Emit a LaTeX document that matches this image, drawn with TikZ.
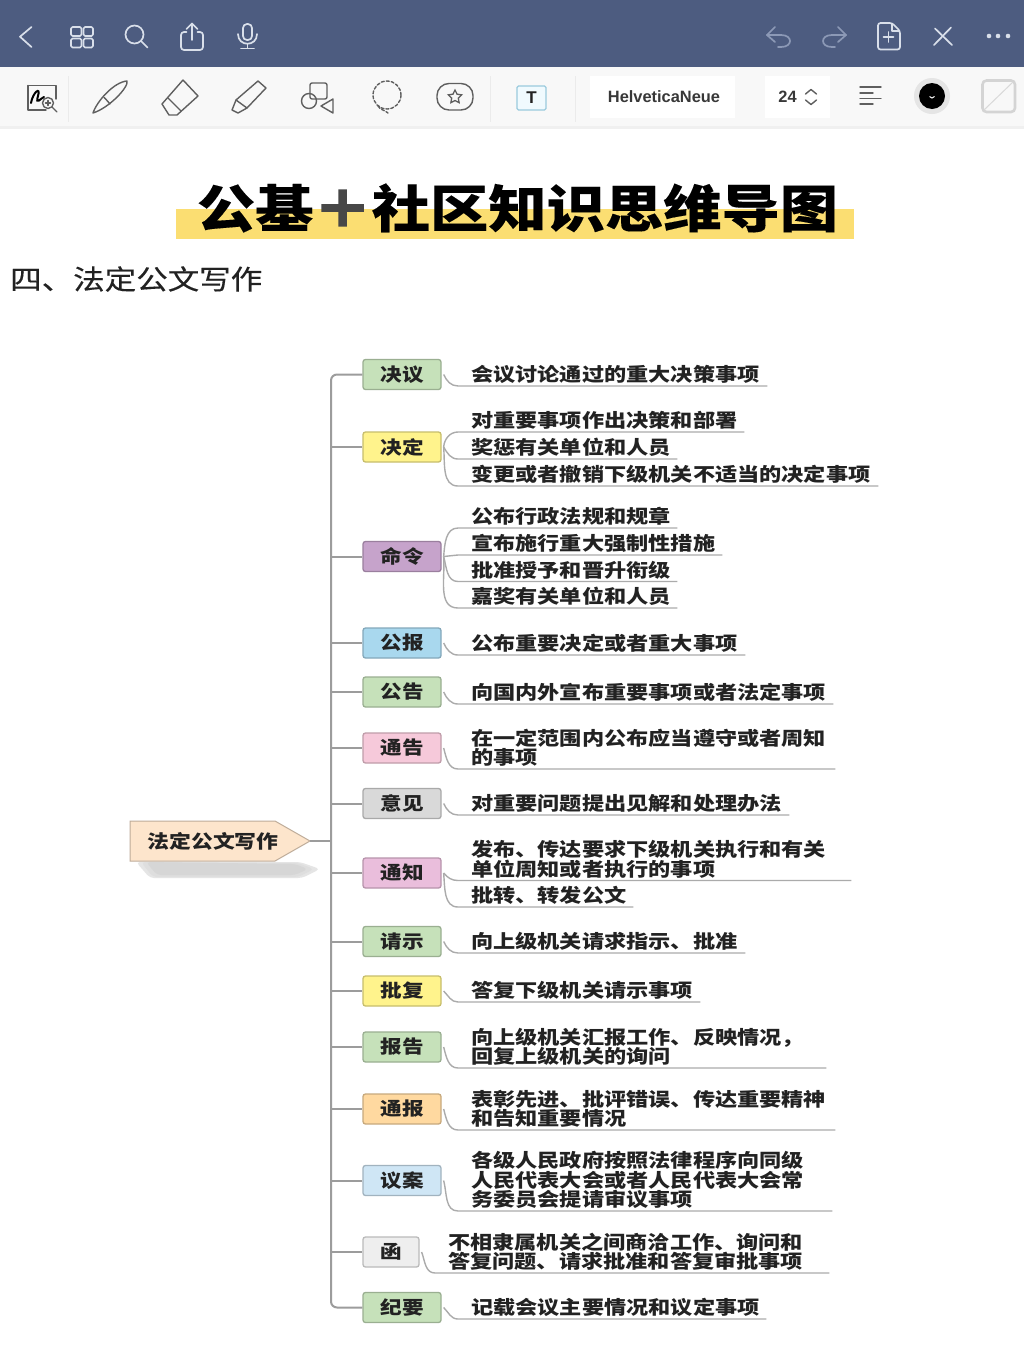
\documentclass[tikz,border=0pt]{standalone}
\usepackage{fontspec}
\setmainfont{Noto Sans CJK SC}
\newfontfamily\latinfont{Liberation Sans}
\usetikzlibrary{shapes.symbols,shapes.geometric}
\normallineskiplimit=-100pt
\lineskiplimit=-100pt
\definecolor{barblue}{HTML}{4D5C80}
\definecolor{toolgray}{HTML}{F8F8F8}
\definecolor{icongray}{HTML}{5F5F5F}
\definecolor{barline}{HTML}{D9DFEA}
\definecolor{bardim}{HTML}{8C99B6}
\definecolor{titleyellow}{HTML}{FBDE72}
\definecolor{inkdark}{HTML}{222222}
\definecolor{stemgray}{HTML}{9C9C9C}
\definecolor{leafgray}{HTML}{ABABAB}
\definecolor{greenbox}{HTML}{C6E1BA}
\definecolor{yellowbox}{HTML}{FFF38C}
\definecolor{purplebox}{HTML}{C6A3CB}
\definecolor{bluebox}{HTML}{A9D8EE}
\definecolor{rosebox}{HTML}{F6C9DA}
\definecolor{graybox}{HTML}{D9D9D9}
\definecolor{pinkbox}{HTML}{EABEDC}
\definecolor{orangebox}{HTML}{FFD9A0}
\definecolor{paleblue}{HTML}{CFE6F5}
\definecolor{palegray}{HTML}{EEEEEE}
\definecolor{rootfill}{HTML}{FDE5CC}
\tikzset{
  topic/.style={draw=#1!78!black,fill=#1,line width=1.3pt,rounded corners=2.5pt,
    minimum width=78pt,minimum height=30pt,inner sep=0pt,text=inkdark,
    font=\fontsize{18.3}{24}\selectfont\bfseries\addfontfeature{FakeStretch=1.18}},
  leaf/.style={anchor=south west,inner xsep=0pt,inner ysep=0pt,text depth=3.9pt,
    text width=#1,align=left,text=inkdark,
    font=\fontsize{18.8}{19.6}\selectfont\bfseries\addfontfeature{FakeStretch=1.18}},
  twolines/.style={text depth=23.5pt},
  threelines/.style={text depth=43.1pt},
  stem/.style={draw=stemgray,line width=2pt},
  twig/.style={draw=leafgray,line width=1.4pt},
  baricon/.style={draw=barline,line width=1.7pt,line cap=round,line join=round},
  dimicon/.style={draw=bardim,line width=1.7pt,line cap=round,line join=round},
  toolicon/.style={draw=icongray,line width=1.4pt,line cap=round,line join=round},
  sepline/.style={draw=black!8,line width=1pt}
}
\begin{document}
\begin{tikzpicture}[x=1pt,y=-1pt]
  \useasboundingbox (0,0) rectangle (1024,1366);
  \fill[white] (0,0) rectangle (1024,1366);
  \fill[toolgray] (0,66) rectangle (1024,127);
  \fill[black!6] (0,126) rectangle (1024,129);
  \fill[barblue] (0,0) rectangle (1024,66.5);
  \draw[baricon] (31.5,27) -- (20,36.7) -- (31.5,47);
  \draw[baricon,rounded corners=1.5pt] (71,27) rectangle (81.5,36);
  \draw[baricon,rounded corners=1.5pt] (83.5,27) rectangle (93,36);
  \draw[baricon,rounded corners=1.5pt] (71,38.5) rectangle (81.5,47.5);
  \draw[baricon,rounded corners=1.5pt] (83.5,38.5) rectangle (93,47.5);
  \draw[baricon] (134.5,34.5) circle (9);
  \draw[baricon] (141,41) -- (147.5,47.5);
  \draw[baricon,rounded corners=3pt] (186.5,32) -- (181,32) -- (181,50) -- (203,50) -- (203,32) -- (197.5,32);
  \draw[baricon] (192,40) -- (192,23.5);
  \draw[baricon] (186.5,29) -- (192,23.5) -- (197.5,29);
  \draw[baricon,rounded corners=4pt] (243,24) rectangle (252,40);
  \draw[baricon] (238,34) .. controls (238,47) and (257,47) .. (257,34);
  \draw[baricon] (247.5,44) -- (247.5,48);
  \draw[baricon] (241,48.5) -- (254,48.5);
  \draw[dimicon] (775,27) -- (767,35) -- (775,42);
  \draw[dimicon] (767,35) -- (781,35) .. controls (793,35) and (793,47) .. (781,47) -- (778,47);
  \draw[dimicon] (838,27) -- (846,35) -- (838,42);
  \draw[dimicon] (846,35) -- (832,35) .. controls (820,35) and (820,47) .. (832,47) -- (835,47);
  \draw[baricon,rounded corners=2.5pt] (892,23) -- (878,23) -- (878,49.5) -- (900,49.5) -- (900,31) -- cycle;
  \draw[baricon] (892,24) -- (892,31) -- (899,31);
  \draw[baricon] (888.5,32) -- (888.5,42);
  \draw[baricon] (883.5,37) -- (893.5,37);
  \draw[baricon] (934,45) -- (951,27.5);
  \draw[baricon] (935,28.5) -- (952,45);
  \fill[barline] (989,36) circle (2.3);
  \fill[barline] (998,36) circle (2.3);
  \fill[barline] (1008,36) circle (2.3);
  \draw[toolicon] (28,85.5) -- (56,85.5) -- (56,99);
  \draw[toolicon] (28,85.5) -- (28,110) -- (46,110);
  \draw[black,line width=2pt,line cap=round] (31,103) .. controls (33,92) and (41,86) .. (38,96) .. controls (35,106) and (41,98) .. (44,97);
  \draw[toolicon] (48,103) circle (5.5);
  \draw[toolicon] (52,107) -- (57,112);
  \draw[toolicon] (45.5,103) -- (50.5,103);
  \draw[toolicon] (48,100.5) -- (48,105.5);
  \draw[sepline] (68,76) -- (68,122);
  \draw[toolicon] (93,113) .. controls (97,101) and (114,82) .. (127,81) .. controls (129,87) and (109,108) .. cycle;
  \draw[toolicon] (104,97.5) .. controls (106,99) and (109,103) .. (110,104);
  \draw[toolicon] (183,80) -- (198,96) -- (177,115) -- (169,115) -- (162,104) -- cycle;
  \draw[toolicon] (168,98) -- (181,111);
  \draw[toolicon] (258,81) -- (266,88) -- (247,108) -- (236,100) -- cycle;
  \draw[toolicon] (236,100) -- (232,110) -- (238,113) -- (247,108);
  \draw[toolicon,rounded corners=2pt] (310,83) rectangle (327,99);
  \draw[toolicon] (309,101) circle (7.5);
  \draw[toolicon] (333,99) -- (333,113) -- (321,106) -- cycle;
  \draw[toolicon,dashed,dash pattern=on 3pt off 2pt] (387,95) circle (14);
  \draw[toolicon,dashed,dash pattern=on 3pt off 2pt] (378,106) .. controls (380,110) and (385,110) .. (388,113);
  \draw[toolicon,rounded corners=12pt] (437,83.5) rectangle (473,110);
  \node (stickerstar) [star,star points=5,star point ratio=2,draw=icongray,line width=1.3pt,minimum size=14pt,inner sep=0pt] at (455,97) {};
  \draw[sepline] (490,76) -- (490,122);
  \draw[draw=black!30!cyan!45,fill=cyan!6,line width=1.3pt,rounded corners=1.5pt] (517,86) rectangle (546,110);
  \node (tbutton) [font=\latinfont\fontsize{17}{17}\selectfont\bfseries,text=inkdark] at (531.5,97.5) {T};
  \draw[sepline] (575,76) -- (575,122);
  \fill[white] (590,76) rectangle (735,118);
  \fill[white] (765,76) rectangle (830,118);
  \node (fontname) [font=\latinfont\fontsize{16.4}{18}\selectfont\bfseries,text=inkdark!90] at (664,97) {HelveticaNeue};
  \node (fontsize) [font=\latinfont\fontsize{16.4}{18}\selectfont\bfseries,text=inkdark!90] at (787.5,97) {24};
  \draw[toolicon] (805.5,94) -- (811,89.5) -- (816.5,94);
  \draw[toolicon] (805.5,100) -- (811,104.5) -- (816.5,100);
  \draw[toolicon] (860,87) -- (881,87);
  \draw[toolicon] (860,93) -- (873,93);
  \draw[toolicon] (860,98.5) -- (881,98.5);
  \draw[toolicon] (860,104) -- (873,104);
  \fill[black!10] (932,96) circle (18);
  \fill[black] (932,96) circle (13);
  \draw[white,line width=1pt] (929.5,96.5) -- (932,98) -- (934.5,96.5);
  \draw[black!17,line width=2.6pt,rounded corners=4pt] (982.5,80.5) rectangle (1015,112);
  \draw[black!15,line width=1pt] (984,110) -- (1013,82);

  \fill[titleyellow] (176,209) rectangle (854,239);
  \node (title) [font=\fontsize{51}{60}\selectfont\bfseries\addfontfeature{FakeBold=0.2,FakeStretch=1.143},text=black] at (517.5,208)
    {公基\textcolor{black!72}{\addfontfeature{FakeBold=3}＋}社区知识思维导图};
  \node (heading) [anchor=west,inner sep=0pt,font=\fontsize{27.4}{34}\selectfont\addfontfeature{FakeBold=0.3,FakeStretch=1.15},text=inkdark] at (10,279) {四、法定公文写作};

  \fill[black!10,rounded corners=4pt] (136,862) -- (300,862) -- (320,869) -- (302,878) -- (150,878) -- cycle;
  \fill[black!13,rounded corners=4pt] (141,862) -- (298,863) -- (314,869) -- (298,877) -- (153,877) -- cycle;
  \fill[black!16,rounded corners=4pt] (146,862) -- (295,864) -- (308,869) -- (295,875) -- (157,875) -- cycle;

  \node (root) [signal,signal to=east,signal pointer angle=59.5,draw=rootfill!75!black,fill=rootfill,line width=1pt,
    minimum width=180pt,minimum height=40pt,inner sep=0pt,outer sep=0pt,anchor=west] at (130,841) {};
  \node (rootlabel) [text=inkdark,inner sep=0pt,font=\fontsize{18.5}{24}\selectfont\bfseries\addfontfeature{FakeStretch=1.18}] at (213,841) {法定公文写作};

  \coordinate (bus) at (331,841);
  \node (jueyi) [topic=greenbox] at (402,374.5) {决议};
  \node (jueding) [topic=yellowbox] at (402,447) {决定};
  \node (mingling) [topic=purplebox] at (402,556.5) {命令};
  \node (gongbao) [topic=bluebox] at (402,643) {公报};
  \node (gonggao) [topic=greenbox] at (402,692) {公告};
  \node (tonggao) [topic=rosebox] at (402,748) {通告};
  \node (yijian) [topic=graybox] at (402,803.5) {意见};
  \node (tongzhi) [topic=pinkbox] at (402,873) {通知};
  \node (qingshi) [topic=greenbox] at (402,941.5) {请示};
  \node (pifu) [topic=yellowbox] at (402,991) {批复};
  \node (baogao) [topic=greenbox] at (402,1047) {报告};
  \node (tongbao) [topic=orangebox] at (402,1109) {通报};
  \node (yian) [topic=paleblue] at (402,1180.5) {议案};
  \node (hanwen) [topic=palegray,minimum width=56pt] at (391,1252) {函};
  \node (jiyao) [topic=greenbox] at (402,1307.5) {纪要};

  \draw[stem] (root.east) -- (bus);
  \draw[stem,rounded corners=6pt] (jueyi.west) -- (bus |- jueyi.west) -- (bus |- jiyao.west) -- (jiyao.west);
  \draw[stem] (bus |- jueding.west) -- (jueding.west);
  \draw[stem] (bus |- mingling.west) -- (mingling.west);
  \draw[stem] (bus |- gongbao.west) -- (gongbao.west);
  \draw[stem] (bus |- gonggao.west) -- (gonggao.west);
  \draw[stem] (bus |- tonggao.west) -- (tonggao.west);
  \draw[stem] (bus |- yijian.west) -- (yijian.west);
  \draw[stem] (bus |- tongzhi.west) -- (tongzhi.west);
  \draw[stem] (bus |- qingshi.west) -- (qingshi.west);
  \draw[stem] (bus |- pifu.west) -- (pifu.west);
  \draw[stem] (bus |- baogao.west) -- (baogao.west);
  \draw[stem] (bus |- tongbao.west) -- (tongbao.west);
  \draw[stem] (bus |- yian.west) -- (yian.west);
  \draw[stem] (bus |- hanwen.west) -- (hanwen.west);

  \node (jueyiA) [leaf=296pt] at (471,386) {会议讨论通过的重大决策事项};
  \node (juedingA) [leaf=273pt] at (471,432) {对重要事项作出决策和部署};
  \node (juedingB) [leaf=206pt] at (471,459) {奖惩有关单位和人员};
  \node (juedingC) [leaf=407pt] at (471,486) {变更或者撤销下级机关不适当的决定事项};
  \node (minglingA) [leaf=206pt] at (471,528) {公布行政法规和规章};
  \node (minglingB) [leaf=251pt] at (471,555) {宣布施行重大强制性措施};
  \node (minglingC) [leaf=206pt] at (471,581.5) {批准授予和晋升衔级};
  \node (minglingD) [leaf=206pt] at (471,608) {嘉奖有关单位和人员};
  \node (gongbaoA) [leaf=274pt] at (471,655) {公布重要决定或者重大事项};
  \node (gonggaoA) [leaf=362pt] at (471,704) {向国内外宣布重要事项或者法定事项};
  \node (tonggaoA) [leaf=364pt,twolines] at (471,769) {在一定范围内公布应当遵守或者周知\\的事项};
  \node (yijianA) [leaf=318pt] at (471,815) {对重要问题提出见解和处理办法};
  \node (tongzhiA) [leaf=380pt,twolines] at (471,880.5) {发布、传达要求下级机关执行和有关\\单位周知或者执行的事项};
  \node (tongzhiB) [leaf=162pt] at (471,907) {批转、转发公文};
  \node (qingshiA) [leaf=274pt] at (471,953) {向上级机关请求指示、批准};
  \node (pifuA) [leaf=229pt] at (471,1002) {答复下级机关请示事项};
  \node (baogaoA) [leaf=355pt,twolines] at (471,1068) {向上级机关汇报工作、反映情况，\\回复上级机关的询问};
  \node (tongbaoA) [leaf=364pt,twolines] at (471,1130) {表彰先进、批评错误、传达重要精神\\和告知重要情况};
  \node (yianA) [leaf=361pt,threelines] at (471,1211) {各级人民政府按照法律程序向同级\\人民代表大会或者人民代表大会常\\务委员会提请审议事项};
  \node (hanwenA) [leaf=381pt,twolines] at (448,1273) {不相隶属机关之间商洽工作、询问和\\答复问题、请求批准和答复审批事项};
  \node (jiyaoA) [leaf=295pt] at (471,1319) {记载会议主要情况和议定事项};

  \draw[twig] ([xshift=2pt]jueyi.east) to[out=-65,in=180] ([xshift=-13pt]jueyiA.south west) -- (jueyiA.south east);
  \draw[twig] ([xshift=2pt]jueding.east) to[out=85,in=180] ([xshift=-13pt]juedingA.south west) -- (juedingA.south east);
  \draw[twig] ([xshift=2pt]jueding.east) to[out=-60,in=180] ([xshift=-13pt]juedingB.south west) -- (juedingB.south east);
  \draw[twig] ([xshift=2pt]jueding.east) to[out=-85,in=180] ([xshift=-13pt]juedingC.south west) -- (juedingC.south east);
  \draw[twig] ([xshift=2pt]mingling.east) to[out=85,in=180] ([xshift=-13pt]minglingA.south west) -- (minglingA.south east);
  \draw[twig] ([xshift=2pt]mingling.east) -- ([xshift=-13pt]minglingB.south west) -- (minglingB.south east);
  \draw[twig] ([xshift=2pt]mingling.east) to[out=-75,in=180] ([xshift=-13pt]minglingC.south west) -- (minglingC.south east);
  \draw[twig] ([xshift=2pt]mingling.east) to[out=-85,in=180] ([xshift=-13pt]minglingD.south west) -- (minglingD.south east);
  \draw[twig] ([xshift=2pt]gongbao.east) to[out=-65,in=180] ([xshift=-13pt]gongbaoA.south west) -- (gongbaoA.south east);
  \draw[twig] ([xshift=2pt]gonggao.east) to[out=-65,in=180] ([xshift=-13pt]gonggaoA.south west) -- (gonggaoA.south east);
  \draw[twig] ([xshift=2pt]tonggao.east) to[out=-75,in=180] ([xshift=-13pt]tonggaoA.south west) -- (tonggaoA.south east);
  \draw[twig] ([xshift=2pt]yijian.east) to[out=-65,in=180] ([xshift=-13pt]yijianA.south west) -- (yijianA.south east);
  \draw[twig] ([xshift=2pt]tongzhi.east) to[out=-50,in=180] ([xshift=-13pt]tongzhiA.south west) -- (tongzhiA.south east);
  \draw[twig] ([xshift=2pt]tongzhi.east) to[out=-85,in=180] ([xshift=-13pt]tongzhiB.south west) -- (tongzhiB.south east);
  \draw[twig] ([xshift=2pt]qingshi.east) to[out=-65,in=180] ([xshift=-13pt]qingshiA.south west) -- (qingshiA.south east);
  \draw[twig] ([xshift=2pt]pifu.east) to[out=-45,in=180] ([xshift=-13pt]pifuA.south west) -- (pifuA.south east);
  \draw[twig] ([xshift=2pt]baogao.east) to[out=-75,in=180] ([xshift=-13pt]baogaoA.south west) -- (baogaoA.south east);
  \draw[twig] ([xshift=2pt]tongbao.east) to[out=-75,in=180] ([xshift=-13pt]tongbaoA.south west) -- (tongbaoA.south east);
  \draw[twig] ([xshift=2pt]yian.east) to[out=-75,in=180] ([xshift=-13pt]yianA.south west) -- (yianA.south east);
  \draw[twig] ([xshift=2pt]hanwen.east) to[out=-70,in=180] ([xshift=-13pt]hanwenA.south west) -- (hanwenA.south east);
  \draw[twig] ([xshift=2pt]jiyao.east) to[out=-45,in=180] ([xshift=-13pt]jiyaoA.south west) -- (jiyaoA.south east);
\end{tikzpicture}
\end{document}
